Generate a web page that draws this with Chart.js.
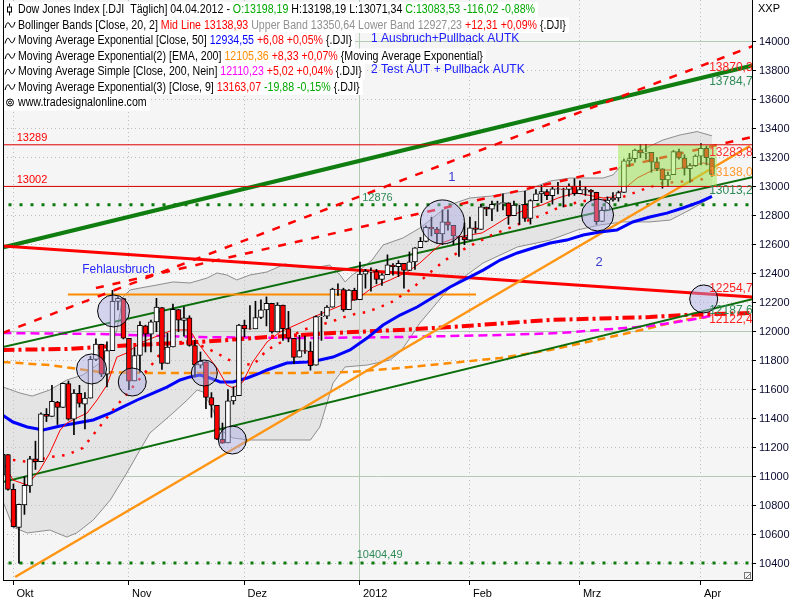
<!DOCTYPE html>
<html><head><meta charset="utf-8">
<script src="https://cdn.jsdelivr.net/npm/chart.js@4.4.1/dist/chart.umd.min.js"></script>
<style>html,body{margin:0;padding:0;background:#fff;}#wrap{width:800px;height:600px;}</style>
</head><body><div id="wrap"><canvas id="c" width="800" height="600"></canvas></div>
<script>
// ---------------- DATA ----------------
const monthIdx = [2, 23, 44, 65, 85, 105, 127];
const monthLabels = ['Okt', 'Nov', 'Dez', '2012', 'Feb', 'Mrz', 'Apr'];
const yTicks = [10400,10600,10800,11000,11200,11400,11600,11800,12000,12200,12400,12600,12800,13000,13200,13400,13600,13800,14000];

const open = [11010,11153,10913,10650,10805,10936,11123,11104,11430,11416,
11515,11478,11643,11397,11575,11500,11542,11809,11913,11707,
11869,12209,12229,11955,11660,11836,12040,11983,12068,12166,
11782,11895,12153,12078,12096,11905,11770,11793,11546,11492,
11258,11233,11523,11559,12045,12020,12020,12098,12150,12195,
11998,12183,12021,11954,11825,11869,11866,11769,12103,12107,
12169,12292,12290,12152,12286,12221,12396,12415,12415,12360,
12393,12460,12449,12471,12422,12482,12579,12623,12720,12708,
12675,12757,12734,12660,12654,12632,12717,12706,12860,12845,
12878,12884,12889,12801,12874,12878,12781,12904,12950,12966,
12938,12985,12983,12981,13005,12952,12980,12977,12962,12760,
12838,12908,12922,12960,13178,13194,13253,13232,13237,13171,
13124,13046,13083,13242,13198,13124,13145,13211,13264,13198];
const high = [11190,11153,10950,10812,11000,11140,11245,11440,11470,11630,
11520,11645,11660,11600,11630,11580,11830,11950,11914,11930,
12285,12240,12229,11955,11890,12070,12045,12080,12230,12166,
11990,12190,12153,12170,12110,11940,11860,11793,11580,11492,
11370,11600,11620,12050,12080,12180,12210,12220,12240,12195,
12200,12184,12140,11954,11975,11970,11930,12110,12140,12180,
12300,12330,12300,12290,12300,12480,12430,12440,12430,12400,
12530,12470,12490,12471,12550,12580,12650,12730,12790,12720,
12840,12840,12734,12660,12750,12790,12760,12880,12860,12900,
12900,12950,12889,12900,12880,12970,12910,12980,13010,12980,
13000,13030,12990,13020,13055,13040,13000,12980,12962,12860,
12930,12960,12970,13190,13230,13260,13290,13290,13237,13200,
13124,13100,13250,13260,13220,13160,13220,13297,13280,13198];
const low = [10987,10907,10653,10404,10740,10892,11050,11104,11380,11416,
11360,11478,11390,11290,11480,11330,11542,11800,11690,11620,
11869,12150,11950,11600,11660,11720,11860,11860,12000,11740,
11782,11895,12000,11970,11900,11690,11750,11470,11410,11255,
11230,11233,11500,11559,11965,12015,12020,12090,12040,11990,
11998,11940,11930,11780,11825,11850,11735,11769,11940,12090,
12169,12250,12140,12152,12217,12221,12300,12280,12330,12320,
12393,12390,12380,12300,12422,12430,12579,12620,12660,12610,
12600,12700,12600,12520,12600,12632,12680,12706,12800,12765,
12830,12840,12740,12801,12740,12760,12742,12904,12890,12910,
12880,12950,12860,12935,12940,12952,12940,12900,12740,12760,
12838,12900,12900,12960,13140,13170,13200,13190,13100,13110,
12990,13000,13083,13190,13080,13030,13140,13150,13150,13071];
const close = [11154,10913,10655,10809,10940,11123,11103,11433,11416,11519,
11478,11644,11397,11577,11505,11542,11809,11914,11707,11869,
12209,12231,11955,11658,11836,12044,11983,12068,12170,11781,
11894,12154,12079,12096,11906,11771,11796,11547,11494,11258,
11232,11523,11556,12046,12020,12019,12098,12150,12196,11998,
12184,12021,11955,11823,11869,11866,11766,12104,12108,12170,
12294,12291,12151,12287,12218,12397,12418,12416,12360,12393,
12462,12449,12471,12422,12482,12579,12624,12720,12709,12676,
12757,12735,12660,12654,12633,12716,12705,12862,12845,12878,
12884,12890,12801,12874,12878,12781,12904,12950,12966,12939,
12985,12983,12981,13005,12952,12980,12978,12963,12759,12837,
12908,12922,12960,13178,13194,13253,13233,13239,13170,13125,
13046,13081,13242,13198,13126,13146,13212,13264,13200,13084];

// indicator lines: [bar index, value]
const bbUpper = [[0,11620],[3.2,11577],[5.4,11556],[8.6,11598],[11.7,11667],[14.6,11701],[17.7,11784],[19.6,11874],[20.8,12012],[21.9,12239],[23.2,12288],[25,12301],[28.1,12322],[31,12343],[34.1,12336],[37.2,12370],[39,12405],[40.8,12391],[42.6,12357],[45,12391],[48.1,12412],[51.4,12467],[54.1,12446],[56.5,12439],[59.5,12460],[61.4,12391],[62.3,12343],[63.6,12391],[65.4,12439],[67.2,12494],[69.2,12598],[72.8,12646],[75.9,12715],[79.6,12826],[82.3,12888],[85,12922],[89,12936],[91.9,12957],[95,12970],[97.2,13005],[99.6,13039],[103.2,13060],[106.3,13060],[109.2,13060],[111,13081],[112.3,13136],[115.4,13239],[120.1,13322],[123.2,13357],[126.3,13380],[129,13351]];
const bbLower = [[0,10840],[1.9,10653],[4.5,10612],[8.6,10632],[11.7,10584],[13.5,10612],[16.5,10701],[19.6,10839],[22.6,11025],[25,11184],[26.8,11301],[31,11439],[33.6,11529],[35.4,11598],[36.5,11584],[38.3,11460],[39.6,11322],[41.9,11267],[45,11253],[56,11253],[57.7,11343],[60.1,11646],[62.3,11757],[66.3,11770],[70.5,11805],[72.3,11860],[74.1,11956],[75.9,12060],[81.4,12308],[87.4,12474],[93.6,12584],[99.6,12632],[104.5,12701],[108.6,12736],[112.8,12757],[117.7,12757],[121.4,12770],[125,12840],[129,12927]];
const ema9 = [[0,11115],[1.9,10977],[4.5,10943],[6.8,11046],[8.6,11163],[10.5,11322],[11.7,11370],[13.5,11405],[15.4,11439],[17.2,11529],[19,11632],[20.8,11825],[22.6,11853],[25,11922],[28.6,11977],[31,12012],[34.1,12012],[35.4,11929],[37.2,11839],[39,11750],[40.8,11632],[41.9,11612],[43.7,11653],[45.5,11791],[48.1,11929],[50.5,11998],[56.5,12101],[59.6,12150],[62.6,12198],[65,12239],[67.4,12308],[70.5,12357],[73.6,12412],[75.9,12474],[79.9,12612],[82.8,12653],[87.2,12681],[89,12722],[91.9,12791],[95,12839],[98.1,12874],[101,12922],[104.1,12957],[106.3,12943],[109.2,12922],[111,12929],[112.8,12977],[115.4,13060],[118.3,13115],[121.4,13115],[124.5,13136],[127.4,13164],[129,13150]];
const midDotted = [[1.9,11115],[5,11101],[8.6,11136],[11.7,11150],[14.6,11198],[17.2,11322],[20.1,11460],[23.7,11619],[27.4,11784],[29.9,11908],[33.2,11922],[35.9,11908],[38.6,11860],[41.9,11791],[45.6,11770],[48.1,11874],[51.4,11943],[54.6,12012],[59.6,12067],[63.2,12115],[66.3,12136],[70.5,12198],[74.6,12301],[77.2,12391],[80.5,12494],[84.6,12584],[89,12667],[92.6,12722],[98.1,12805],[101,12853],[104.1,12888],[106.8,12908],[109.9,12908],[112.8,12929],[117.2,12991],[120.1,13026],[123.2,13033],[126.3,13046],[128.7,13060]];
const ema50 = [[0,11425],[1.9,11377],[4.5,11343],[7.4,11322],[10.5,11350],[13.5,11370],[16.5,11391],[19.6,11439],[21.9,11481],[24.5,11529],[27.4,11577],[29.9,11618],[32.3,11667],[34.1,11688],[35.9,11701],[37.7,11681],[39.6,11653],[41.9,11653],[44.5,11681],[46.8,11715],[48.1,11736],[51.7,11784],[55.4,11791],[57.7,11805],[60.1,11825],[63.2,11874],[66.3,11956],[69.2,12046],[72.3,12115],[75.4,12170],[81.4,12308],[87.4,12425],[90.5,12494],[93.6,12543],[96.5,12577],[99.6,12612],[102.6,12632],[105.6,12667],[108.6,12688],[111.7,12701],[114.6,12757],[117.7,12791],[120.8,12818],[123.7,12853],[126.8,12895],[129,12934]];
const ema200b = [[0,11874],[11.7,11881],[23.7,11908],[35.9,11929],[48.1,11963],[60.1,11991],[72.3,12012],[81.4,12032],[99.6,12081],[117.7,12101],[123.7,12115],[136.3,12129]];
const sma200 = [[0,11991],[17.7,11984],[35.9,11963],[54.1,11956],[72.3,11963],[90.5,11977],[101.4,11991],[108.6,12012],[117.7,12039],[125,12081],[129,12110]];
const ema200 = [[0,11791],[8.6,11770],[17.7,11722],[26.8,11715],[35.9,11715],[45,11715],[54.1,11715],[63.2,11722],[72.3,11750],[81.4,11784],[90.5,11818],[99.6,11874],[110.5,11963],[117.7,12025],[123.7,12081],[129,12105]];

// drawn trend lines / levels: [bar index, value]
const greenTop = [[0,12581],[136.4,13836]];
const greenMid = [[0,11894],[136.4,13066]];
const greenLow = [[0,10963],[136.4,12225]];
const redDashUp = [[0,11991],[136.4,13969]];
const redDashLow = [[17,12301],[136.4,13344]];
const redFalling = [[0,12591],[136.4,12239]];
const orangeFlat = [[11.9,12257],[86.1,12257]];
const orangeRising = [[2.3,10308],[135.9,13281]];
const levelRed = [13289, 13002];
const levelGreen = [12876, 10404.49];
const boxIdx = [111.9, 129.9];
const boxVal = [13289, 13002];
const circles = [[20.2,12143],[16.2,11743],[23.6,11653],[36.7,11715],[41.8,11253],[80,12757],[108.2,12805],[127.5,12226]];

// ---------------- STYLE / LAYOUT ----------------
const circleR = [16, 15, 14, 13, 14, 22, 16, 14];
const FONT = 'Liberation Sans';
Chart.defaults.font.family = FONT;
// axis calibration: pixel of value 14000, pixels per point, pixel of bar 0, pixels per bar
const Y14000 = 41.7, PXPT = 0.145, X0 = 2.45, PXBAR = 5.5;
const pts = a => a.map(([x, y]) => ({x, y}));
const xMin = 0.1, xMax = 136.28;
const line = (data, color, width, dash, order, extra) => Object.assign({
  type: 'line', data: pts(data), borderColor: color, borderWidth: width,
  borderDash: dash || [], pointRadius: 0, tension: 0, fill: false, order
}, extra || {});
const hLine = (v, color, width, dash, order) => line([[xMin - 1, v], [xMax + 1, v]], color, width, dash, order);

const datasets = [
  line(bbUpper, '#8e8e8e', 1, null, 30, {fill: '+1', backgroundColor: 'rgba(200,200,200,0.38)'}),
  line(bbLower, '#8e8e8e', 1, null, 29),
  hLine(levelGreen[0], '#0c7a0c', 3, [3, 8], 20),
  hLine(levelGreen[1], '#0c7a0c', 3, [3, 8], 20),
  line(sma200, '#ff00ff', 2.5, [9, 5], 19),
  line(ema200, '#ff8c00', 2.5, [8, 5], 19),
  line(ema200b, '#ff0000', 4, [12, 4, 3, 4], 18),
  line(greenTop, '#0f7d0f', 4, null, 17),
  line(greenMid, '#0b6e0b', 2, null, 17),
  line(greenLow, '#0b6e0b', 2, null, 17),
  line(redDashUp, '#ff0000', 2.5, [8, 9], 16),
  line(redDashLow, '#ff0000', 2.5, [8, 9], 16),
  line(redFalling, '#ff0000', 3, null, 16),
  line(orangeFlat, '#ff8c00', 2, null, 16),
  line(orangeRising, '#ff9512', 2.5, null, 15),
  line(ema50, '#0000ff', 3, null, 14),
  line(midDotted, '#ff0000', 2.5, [2.5, 7.5], 13),
  line(ema9, '#ff0000', 1, null, 12),
  {
    type: 'bar', order: 11, grouped: false, barThickness: 1,
    data: low.map((l, i) => ({x: i, y: [l, high[i]]})),
    backgroundColor: '#000', borderWidth: 0
  },
  {
    type: 'bar', order: 10, grouped: false, barThickness: 5,
    data: open.map((o, i) => ({x: i, y: [o, close[i] === o ? o + 3 : close[i]]})),
    backgroundColor: c => (close[c.dataIndex] >= open[c.dataIndex] ? '#ffffff' : '#ff0000'),
    borderColor: '#000', borderWidth: 1, borderSkipped: false
  },
  {
    type: 'line', order: 3, data: [{x: boxIdx[0], y: boxVal[0]}, {x: boxIdx[1], y: boxVal[0]}],
    fill: {value: boxVal[1]}, backgroundColor: 'rgba(160,235,80,0.5)', borderWidth: 0, pointRadius: 0
  },
  hLine(levelRed[0], '#e00000', 1, null, 2),
  hLine(levelRed[1], '#e00000', 1, null, 2),
  {
    type: 'bubble', order: 1, data: pts(circles),
    radius: c => circleR[c.dataIndex], backgroundColor: 'rgba(170,170,230,0.45)',
    borderColor: '#000', borderWidth: 1
  }
];

// text annotations in data coordinates
const notes = [
  {t: '13289', x: 2.6, y: levelRed[0], c: '#ff0000', a: 'left', b: 'bottom', f: 11, dy: -1},
  {t: '13002', x: 2.6, y: levelRed[1], c: '#ff0000', a: 'left', b: 'bottom', f: 11, dy: -1},
  {t: '12876', x: 65.4, y: levelGreen[0], c: '#2e8b57', a: 'left', b: 'bottom', f: 11, dy: -1},
  {t: '10404,49', x: 64.4, y: levelGreen[1], c: '#2e8b57', a: 'left', b: 'bottom', f: 11, dy: -3},
  {t: 'Fehlausbruch', x: 14.5, y: 12425, c: '#2a2aff', a: 'left', b: 'middle', f: 12},
  {t: '1', x: 81.7, y: 13067, c: '#3a3ad0', a: 'center', b: 'middle', f: 13},
  {t: '2', x: 108.5, y: 12481, c: '#3a3ad0', a: 'center', b: 'middle', f: 13},
  {t: '13870,39', x: 128.5, y: 13859, c: '#ff2020', a: 'left', b: 'top', f: 12},
  {t: '13784,72', x: 128.5, y: 13766, c: '#2e8b57', a: 'left', b: 'top', f: 12},
  {t: '13283,86', x: 128.5, y: 13278, c: '#ff3030', a: 'left', b: 'top', f: 12},
  {t: '13138,08', x: 128.5, y: 13138, c: '#ff9a30', a: 'left', b: 'top', f: 12},
  {t: '13013,27', x: 128.5, y: 13013, c: '#2e8b57', a: 'left', b: 'top', f: 12},
  {t: '12254,79', x: 128.5, y: 12258, c: '#ff2020', a: 'left', b: 'bottom', f: 12},
  {t: '12187,63', x: 128.5, y: 12187, c: '#2e8b57', a: 'left', b: 'top', f: 12},
  {t: '12122,45', x: 128.5, y: 12122, c: '#ff2020', a: 'left', b: 'top', f: 12}
];
const topNotes = [
  {t: '1 Ausbruch+Pullback AUTK', x: 67, y: 14019},
  {t: '2 Test AUT + Pullback AUTK', x: 67, y: 13805}
];

const K = '#000000', RED = '#ff0000', GRN = '#00a800';
const legendLines = [
  [['Dow Jones Index [.DJI  Täglich] 04.04.2012 - ', K], ['O:13198,19', GRN], [' H:13198,19 L:13071,34 ', K], ['C:13083,53 -116,02 -0,88%', GRN]],
  [['Bollinger Bands [Close, 20, 2] ', K], ['Mid Line 13138,93', RED], [' Upper Band 13350,64 Lower Band 12927,23', '#909090'], [' +12,31 +0,09%', RED], [' {.DJI}', K]],
  [['Moving Average Exponential [Close, 50] ', K], ['12934,55', '#0000ff'], [' +6,08 +0,05%', RED], [' {.DJI}', K]],
  [['Moving Average Exponential(2) [EMA, 200] ', K], ['12105,36', '#ff8c00'], [' +8,33 +0,07%', RED], [' {Moving Average Exponential}', K]],
  [['Moving Average Simple [Close, 200, Nein] ', K], ['12110,23', '#ff00ff'], [' +5,02 +0,04%', RED], [' {.DJI}', K]],
  [['Moving Average Exponential(3) [Close, 9] ', K], ['13163,07', RED], [' -19,88 -0,15%', GRN], [' {.DJI}', K]],
  [['www.tradesignalonline.com', K]]
];
const LSX = 0.885; // horizontal squeeze of legend text

const deco = {
  id: 'deco',
  afterLayout(chart) {
    const a = chart.chartArea, xs = chart.scales.x, ys = chart.scales.y;
    ys.max = 14000 + (Y14000 - a.top) / PXPT;
    ys.min = 14000 - (a.bottom - Y14000) / PXPT;
    xs.min = (a.left - X0) / PXBAR;
    xs.max = (a.right - X0) / PXBAR;
    ys.configure(); xs.configure();
  },
  beforeDraw(chart) {
    const {ctx, chartArea: a} = chart;
    ctx.save();
    ctx.fillStyle = '#ffffff'; ctx.fillRect(0, 0, chart.width, chart.height);
    ctx.fillStyle = '#f5f5f5'; ctx.fillRect(a.left, 0, a.right - a.left, a.bottom);
    ctx.restore();
  },
  afterDatasetsDraw(chart) {
    const {ctx, chartArea: a, scales: {x, y}} = chart;
    ctx.save();
    ctx.beginPath(); ctx.rect(a.left, a.top, a.right - a.left, a.bottom - a.top); ctx.clip();
    notes.forEach(n => {
      ctx.font = n.f + 'px ' + FONT;
      ctx.fillStyle = n.c; ctx.textAlign = n.a; ctx.textBaseline = n.b;
      ctx.fillText(n.t, x.getPixelForValue(n.x), y.getPixelForValue(n.y) + (n.dy || 0));
    });
    ctx.restore();
  },
  afterDraw(chart) {
    const {ctx, chartArea: a, scales: {x, y}} = chart;
    ctx.save();
    ctx.strokeStyle = '#000'; ctx.lineWidth = 1;
    ctx.beginPath(); ctx.moveTo(a.left + 0.5, 0); ctx.lineTo(a.left + 0.5, a.bottom); ctx.stroke();
    ctx.beginPath(); ctx.moveTo(a.right + 0.5, 0); ctx.lineTo(a.right + 0.5, a.bottom); ctx.stroke();
    ctx.font = '12px ' + FONT; ctx.textBaseline = 'middle'; ctx.textAlign = 'left';
    legendLines.forEach((segs, i) => {
      const cy = 9.5 + i * 15.5;
      let w = 0; segs.forEach(s => { w += ctx.measureText(s[0]).width * LSX; });
      ctx.fillStyle = '#ffffff'; ctx.fillRect(a.left + 1, cy - 7.5, w + 17, 15.5);
      let px = 18;
      segs.forEach(s => {
        ctx.save(); ctx.translate(px, cy + 0.5); ctx.scale(LSX, 1);
        ctx.fillStyle = s[1]; ctx.fillText(s[0], 0, 0); ctx.restore();
        px += ctx.measureText(s[0]).width * LSX;
      });
      ctx.strokeStyle = '#000'; ctx.lineWidth = 1; ctx.beginPath();
      if (i === 0) {
        ctx.moveTo(9.5, cy - 6); ctx.lineTo(9.5, cy + 6); ctx.stroke();
        ctx.fillStyle = '#fff'; ctx.fillRect(7, cy - 3, 5, 5); ctx.strokeRect(7.5, cy - 2.5, 4, 5);
      } else if (i === 6) {
        ctx.arc(10, cy, 3.5, 0, Math.PI * 2); ctx.stroke();
        ctx.beginPath(); ctx.arc(10, cy, 1.5, 0, Math.PI * 2); ctx.stroke();
      } else {
        ctx.moveTo(5, cy + 3); ctx.quadraticCurveTo(7.5, cy - 6, 10, cy); ctx.quadraticCurveTo(12.5, cy + 6, 15, cy - 3); ctx.stroke();
      }
    });
    ctx.font = '12px ' + FONT; ctx.fillStyle = '#2020ff'; ctx.textBaseline = 'middle';
    topNotes.forEach(n => ctx.fillText(n.t, x.getPixelForValue(n.x), y.getPixelForValue(n.y)));
    ctx.fillStyle = '#000'; ctx.font = '11px ' + FONT;
    ctx.fillText('XXP', a.right + 6, 9);
    ctx.strokeStyle = '#777';
    ctx.strokeRect(a.right - 7.5, a.bottom - 7.5, 6, 6);
    ctx.beginPath(); ctx.moveTo(a.right - 6, a.bottom - 2); ctx.lineTo(a.right - 2, a.bottom - 6); ctx.stroke();
    ctx.restore();
  }
};

new Chart(document.getElementById('c'), {
  type: 'line',
  data: {datasets},
  plugins: [deco],
  options: {
    responsive: false, animation: false, events: [],
    layout: {autoPadding: false, padding: {left: 3, top: 0, right: 0, bottom: 0}},
    plugins: {legend: {display: false}, tooltip: {enabled: false}},
    scales: {
      x: {
        type: 'linear', min: xMin, max: xMax, offset: false,
        afterBuildTicks: s => { s.ticks = monthIdx.map(v => ({value: v})); },
        afterFit: s => { s.height = 20; s.paddingLeft = 0; s.paddingRight = 0; },
        ticks: {
          callback: (v, i) => monthLabels[i], autoSkip: false, maxRotation: 0,
          align: 'start', labelOffset: 3, padding: 2, color: '#000', font: {size: 11, family: FONT}
        },
        grid: {
          offset: false, drawTicks: true, tickLength: 5, tickColor: '#000',
          color: c => (c.index === 3 ? '#b3cbb3' : '#bdbdbd')
        },
        border: {display: true, color: '#000', width: 1, dash: c => (c.index === 3 ? [] : [1, 3])}
      },
      y: {
        type: 'linear', position: 'right', min: 10287.6, max: 14287.6, beginAtZero: false,
        afterBuildTicks: s => { s.ticks = yTicks.map(v => ({value: v})); },
        afterFit: s => { s.width = 48; s.paddingTop = 0; s.paddingBottom = 0; },
        ticks: {callback: v => String(v), padding: 3, color: '#0a0a30', font: {size: 11, family: FONT}, autoSkip: false},
        grid: {
          drawTicks: true, tickLength: 4, tickColor: '#000',
          color: c => (c.tick && c.tick.value % 1000 === 0 ? '#b3cbb3' : '#bdbdbd')
        },
        border: {display: true, color: '#000', width: 1, dash: c => (c.tick && c.tick.value % 1000 === 0 ? [] : [1, 3])}
      }
    }
  }
});
</script>
</body></html>
